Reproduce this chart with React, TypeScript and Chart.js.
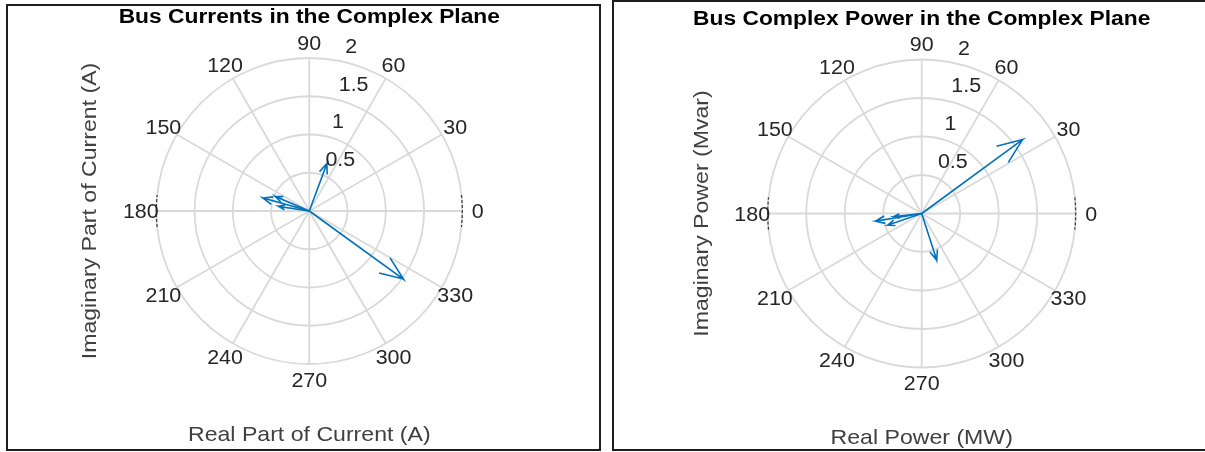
import React, { useEffect, useRef } from 'react';
import { Chart, registerables } from 'chart.js';

Chart.register(...registerables);

// ---- data ----
const currentRe = [0.23, 1.23, -0.605, -0.445, -0.40];
const currentIm = [0.62, -0.89, 0.17, 0.19, 0.06];
const powerRe = [1.31, 0.195, -0.60, -0.36, -0.44];
const powerIm = [0.96, -0.605, -0.10, -0.04, -0.15];
const angleTicks = [0, 30, 60, 90, 120, 150, 180, 210, 240, 270, 300, 330];
const radialTicks = [0.5, 1, 1.5, 2];
const currentTitle = 'Bus Currents in the Complex Plane';
const currentXLabel = 'Real Part of Current (A)';
const currentYLabel = 'Imaginary Part of Current (A)';
const powerTitle = 'Bus Complex Power in the Complex Plane';
const powerXLabel = 'Real Power (MW)';
const powerYLabel = 'Imaginary Power (Mvar)';

const FONT = '"Liberation Sans", Arial, Helvetica, sans-serif';
const ARROW = '#0072BD';

type PanelCfg = {
  left: number;
  width: number;
  cx: number;
  cy: number;
  r: number;
  title: string;
  titleBase: number;
  xLabel: string;
  xLabelBase: number;
  yLabel: string;
  yLabelX: number;
  re: number[];
  im: number[];
};

const H = 452;

function txt(
  ctx: CanvasRenderingContext2D,
  s: string,
  x: number,
  y: number,
  font: string,
  color: string,
  align: CanvasTextAlign,
  sx: number,
  rot = 0
) {
  ctx.save();
  ctx.translate(x, y);
  if (rot) ctx.rotate(rot);
  ctx.scale(sx, 1);
  ctx.font = font;
  ctx.fillStyle = color;
  ctx.textAlign = align;
  ctx.textBaseline = 'alphabetic';
  ctx.fillText(s, 0, 0);
  ctx.restore();
}

function arrowData(re: number, im: number) {
  return [
    { x: 0, y: 0 },
    { x: re, y: im },
    { x: 0.8 * re - 0.08 * im, y: 0.8 * im + 0.08 * re },
    { x: re, y: im },
    { x: 0.8 * re + 0.08 * im, y: 0.8 * im - 0.08 * re },
  ];
}

function PolarPanel({ cfg }: { cfg: PanelCfg }) {
  const ref = useRef<HTMLCanvasElement | null>(null);
  useEffect(() => {
    const canvas = ref.current;
    if (!canvas) return;
    const sx = 1.12;
    const gridPlugin = {
      id: 'polarGrid',
      beforeDatasetsDraw(chart: any) {
        const ctx: CanvasRenderingContext2D = chart.ctx;
        const xs = chart.scales.x;
        const ys = chart.scales.y;
        const ox = xs.getPixelForValue(0);
        const oy = ys.getPixelForValue(0);
        const rmax = radialTicks[radialTicks.length - 1];
        const R = xs.getPixelForValue(rmax) - ox;
        ctx.save();
        ctx.strokeStyle = '#d9d9d9';
        ctx.lineWidth = 1.8;
        for (const a of angleTicks) {
          const t = (a * Math.PI) / 180;
          ctx.beginPath();
          ctx.moveTo(ox, oy);
          ctx.lineTo(ox + R * Math.cos(t), oy - R * Math.sin(t));
          ctx.stroke();
        }
        for (const v of radialTicks) {
          const rp = xs.getPixelForValue(v) - ox;
          ctx.beginPath();
          ctx.arc(ox, oy, rp, 0, Math.PI * 2);
          ctx.stroke();
        }
        // dark fragments of the outer theta ring near 0 and 180 degrees
        ctx.strokeStyle = '#3a3a3a';
        ctx.lineWidth = 1.2;
        ctx.setLineDash([3, 2]);
        const d = (6 * Math.PI) / 180;
        ctx.beginPath();
        ctx.arc(ox, oy, R, -d, d);
        ctx.stroke();
        ctx.beginPath();
        ctx.arc(ox, oy, R, Math.PI - d, Math.PI + d);
        ctx.stroke();
        ctx.restore();
      },
      afterDraw(chart: any) {
        const ctx: CanvasRenderingContext2D = chart.ctx;
        const xs = chart.scales.x;
        const ys = chart.scales.y;
        const ox = xs.getPixelForValue(0);
        const oy = ys.getPixelForValue(0);
        const rmax = radialTicks[radialTicks.length - 1];
        const R = xs.getPixelForValue(rmax) - ox;
        const tickFont = `19.5px ${FONT}`;
        const tickColor = '#262626';
        // angle labels
        for (const a of angleTicks) {
          const t = (a * Math.PI) / 180;
          const lx = ox + (R + 15.5) * Math.cos(t);
          const ly = oy - (R + 15.5) * Math.sin(t);
          txt(ctx, String(a), lx, ly + 7, tickFont, tickColor, 'center', 1.1);
        }
        // radial labels along 80 degrees
        const ra = (80 * Math.PI) / 180;
        for (const v of radialTicks) {
          const rp = xs.getPixelForValue(v) - ox;
          const px = ox + rp * Math.cos(ra) + 9.5;
          const py = oy - rp * Math.sin(ra) - 14.3;
          txt(ctx, String(v), px, py + 7, tickFont, tickColor, 'left', 1.1);
        }
        // title
        txt(ctx, cfg.title, ox, cfg.titleBase, `bold 20px ${FONT}`, '#000000', 'center', 1.14);
        // axis labels
        txt(ctx, cfg.xLabel, ox, cfg.xLabelBase, `21px ${FONT}`, '#404040', 'center', 1.1);
        txt(ctx, cfg.yLabel, cfg.yLabelX, oy, `21px ${FONT}`, '#404040', 'center', 1.1, -Math.PI / 2);
      },
    };

    const datasets = cfg.re.map((re, i) => ({
      label: `Bus ${i + 1}`,
      data: arrowData(re, cfg.im[i]),
      showLine: true,
      borderColor: ARROW,
      backgroundColor: ARROW,
      borderWidth: 1.6,
      pointRadius: 0,
      pointHoverRadius: 0,
      fill: false,
      tension: 0,
    }));

    const chart = new Chart(canvas, {
      type: 'scatter',
      data: { datasets },
      options: {
        responsive: false,
        animation: false,
        devicePixelRatio: 1,
        layout: {
          padding: {
            left: cfg.cx - cfg.r,
            right: cfg.width - (cfg.cx + cfg.r),
            top: cfg.cy - cfg.r,
            bottom: H - (cfg.cy + cfg.r),
          },
        },
        scales: {
          x: { type: 'linear', min: -2, max: 2, display: false },
          y: { type: 'linear', min: -2, max: 2, display: false },
        },
        plugins: {
          legend: { display: false },
          tooltip: { enabled: false },
          title: { display: false },
        },
        events: [],
      },
      plugins: [gridPlugin],
    } as any);
    return () => chart.destroy();
  }, [cfg]);
  return (
    <canvas
      ref={ref}
      width={cfg.width}
      height={H}
      style={{ position: 'absolute', left: cfg.left, top: 0, width: cfg.width, height: H }}
    />
  );
}

const leftCfg: PanelCfg = {
  left: 0,
  width: 606,
  cx: 309.3,
  cy: 211,
  r: 153,
  title: currentTitle,
  titleBase: 23,
  xLabel: currentXLabel,
  xLabelBase: 441,
  yLabel: currentYLabel,
  yLabelX: 96,
  re: currentRe,
  im: currentIm,
};

const rightCfg: PanelCfg = {
  left: 606,
  width: 599,
  cx: 315.7,
  cy: 213.5,
  r: 154,
  title: powerTitle,
  titleBase: 24.5,
  xLabel: powerXLabel,
  xLabelBase: 444,
  yLabel: powerYLabel,
  yLabelX: 102,
  re: powerRe,
  im: powerIm,
};

export default function App() {
  return (
    <div
      style={{
        position: 'absolute',
        left: 0,
        top: 0,
        width: 1205,
        height: H,
        background: '#ffffff',
        overflow: 'hidden',
      }}
    >
      <PolarPanel cfg={leftCfg} />
      <PolarPanel cfg={rightCfg} />
      <div
        style={{
          position: 'absolute',
          left: 6,
          top: 4,
          width: 595,
          height: 447,
          border: '2px solid #1e1e1e',
          boxSizing: 'border-box',
          pointerEvents: 'none',
        }}
      />
      <div
        style={{
          position: 'absolute',
          left: 612,
          top: 0,
          width: 600,
          height: 451,
          border: '2px solid #1e1e1e',
          boxSizing: 'border-box',
          pointerEvents: 'none',
        }}
      />
    </div>
  );
}
